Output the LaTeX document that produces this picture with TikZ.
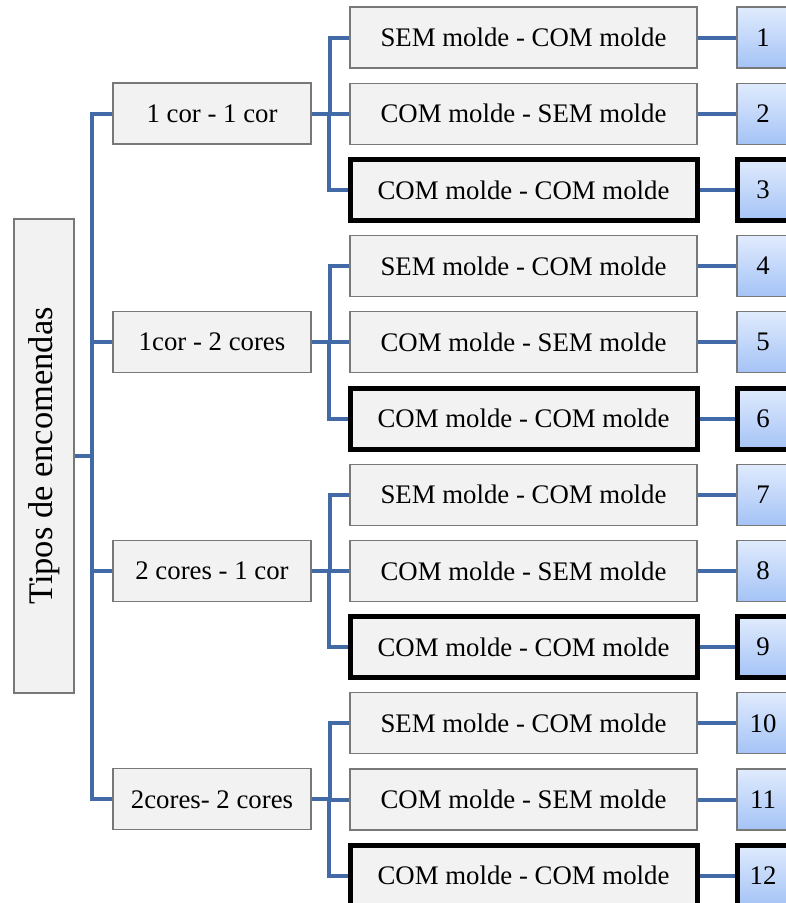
\documentclass[tikz,border=0pt]{standalone}
\usepackage{fontspec}
\setmainfont{Liberation Serif}
\usetikzlibrary{positioning}

\definecolor{linkblue}{RGB}{66,106,166}
\definecolor{boxgray}{RGB}{242,242,242}
\definecolor{edgegray}{RGB}{120,120,120}
\definecolor{numtop}{RGB}{224,235,253}
\definecolor{numbot}{RGB}{164,195,246}

\tikzset{
  link/.style = {draw=linkblue, line width=4pt},
  graybox/.style = {draw=edgegray, line width=1.2pt, fill=boxgray,
    font=\fontsize{26.8pt}{30pt}\selectfont, inner sep=0pt},
  rootbox/.style = {graybox, minimum width=60pt, minimum height=474pt,
    font=\fontsize{34.5pt}{38pt}\selectfont},
  pairbox/.style = {graybox, minimum width=198pt, minimum height=61pt},
  leafbox/.style = {graybox, minimum width=347pt, minimum height=61pt},
  numbox/.style = {graybox, top color=numtop, bottom color=numbot,
    minimum width=52pt, minimum height=61pt},
  heavy/.style = {draw=black, line width=5pt}
}

\begin{document}
\begin{tikzpicture}[x=1pt, y=-1pt]
\useasboundingbox (0,0) rectangle (786,903);

\node[rootbox] (root) at (44,456) {\rotatebox{90}{Tipos de encomendas}};

% colour pairs
\foreach \j/\txt in {1/{1 cor - 1 cor}, 2/{1cor - 2 cores},
                     3/{2 cores - 1 cor}, 4/{2cores- 2 cores}}{
  \node[pairbox] (c\j) at (212,{113.5+228.6*(\j-1)}) {\txt};
  \draw[link] (c\j.west) -- ++(-20,0) |- (root.east);
}

% mould combinations and numbers
\foreach \i in {1,...,12}{
  \pgfmathtruncatemacro{\grp}{int((\i-1)/3)+1}
  \pgfmathtruncatemacro{\pos}{mod(\i-1,3)}
  \pgfmathsetmacro{\ypos}{37.5+76.2*(\i-1)}
  \ifcase\pos
    \node[leafbox] (s\i) at (523.5,\ypos) {SEM molde - COM molde};
    \node[numbox] (n\i) at (763,\ypos) {\i};
  \or
    \node[leafbox] (s\i) at (523.5,\ypos) {COM molde - SEM molde};
    \node[numbox] (n\i) at (763,\ypos) {\i};
  \else
    \node[leafbox, heavy] (s\i) at (523.5,\ypos) {COM molde - COM molde};
    \node[numbox, heavy] (n\i) at (763,\ypos) {\i};
  \fi
  \draw[link] (s\i.west) -- ++(-19,0) |- (c\grp.east);
  \draw[link] (s\i.east) -- (n\i.west);
}
\end{tikzpicture}
\end{document}
